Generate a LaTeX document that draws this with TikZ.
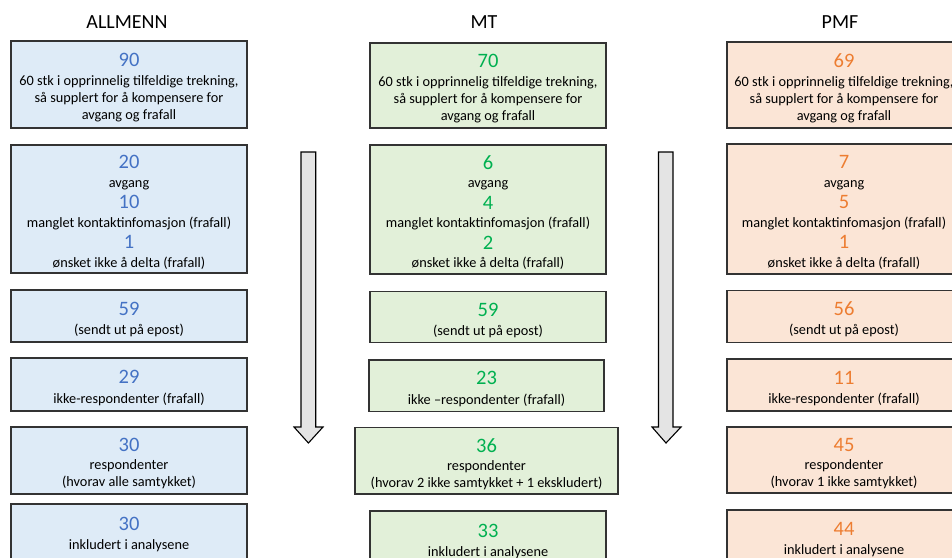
\documentclass[tikz,border=0pt]{standalone}
\usepackage{fontspec}
\setmainfont{Carlito}
\definecolor{bfill}{HTML}{DEEBF7}
\definecolor{btext}{HTML}{4472C4}
\definecolor{gfill}{HTML}{E2F0D9}
\definecolor{gtext}{HTML}{00B050}
\definecolor{ofill}{HTML}{FBE5D6}
\definecolor{otext}{HTML}{ED7D31}
\definecolor{afill}{HTML}{E4E4E4}
\definecolor{edge}{HTML}{333333}
\newcommand{\bignum}[2]{{\fontsize{20.5}{22}\selectfont\color{#1}#2}}
\newcommand{\topnum}[2]{\rule{0pt}{20pt}{\fontsize{20.5}{22}\selectfont\color{#1}#2}}
\begin{document}
\begin{tikzpicture}[x=1pt,y=-1pt,
  box/.style={draw=edge,line width=1.1pt,rectangle,inner sep=0pt,align=center,
    font=\fontsize{14.3}{17}\selectfont,text=black},
  abox/.style={box,fill=bfill},
  gbox/.style={box,fill=gfill},
  obox/.style={box,fill=ofill},
  title/.style={font=\fontsize{20}{24}\selectfont,inner sep=0pt,anchor=base},
  bigarrow/.style={draw=black,line width=1.1pt,fill=afill,line join=miter}]
\clip (0,0) rectangle (952,557);
\useasboundingbox (0,0) rectangle (952,557);
% titles
\node[title] (tA) at (127,28) {ALLMENN};
\node[title] (tM) at (484,28) {MT};
\node[title] (tP) at (840,28) {PMF};
% ALLMENN
\node[abox,minimum width=236pt,minimum height=87pt] (a1) at (129,84.5)
 {\topnum{btext}{90}\\[2pt]60 stk i opprinnelig tilfeldige trekning,\\så supplert for å kompensere for\\avgang og frafall};
\node[abox,minimum width=236pt,minimum height=128pt] (a2) at (129,209)
 {\topnum{btext}{20}\\[1.5pt]avgang\\[4.5pt]\bignum{btext}{10}\\[1.5pt]manglet kontaktinfomasjon (frafall)\\[4.5pt]\bignum{btext}{1}\\[1.5pt]ønsket ikke å delta (frafall)};
\node[abox,minimum width=236pt,minimum height=52pt] (a3) at (129,316)
 {\topnum{btext}{59}\\[2.5pt](sendt ut på epost)};
\node[abox,minimum width=236pt,minimum height=53pt] (a4) at (129,384.5)
 {\topnum{btext}{29}\\[2.5pt]ikke-respondenter (frafall)};
\node[abox,minimum width=236pt,minimum height=67pt] (a5) at (129,460.5)
 {\topnum{btext}{30}\\[1pt]respondenter\\(hvorav alle samtykket)};
\node[abox,minimum width=236pt,minimum height=60pt] (a6) at (129,534)
 {\bignum{btext}{30}\\[2pt]inkludert i analysene};
% MT
\node[gbox,minimum width=236pt,minimum height=85pt] (m1) at (488,85.5)
 {\topnum{gtext}{70}\\[2pt]60 stk i opprinnelig tilfeldige trekning,\\så supplert for å kompensere for\\avgang og frafall};
\node[gbox,minimum width=236pt,minimum height=129pt] (m2) at (488,209.5)
 {\topnum{gtext}{6}\\[1.5pt]avgang\\[4.5pt]\bignum{gtext}{4}\\[1.5pt]manglet kontaktinfomasjon (frafall)\\[4.5pt]\bignum{gtext}{2}\\[1.5pt]ønsket ikke å delta (frafall)};
\node[gbox,minimum width=236pt,minimum height=51pt] (m3) at (488,317)
 {\topnum{gtext}{59}\\[2.5pt](sendt ut på epost)};
\node[gbox,minimum width=235pt,minimum height=51.5pt] (m4) at (486.5,385.7)
 {\topnum{gtext}{23}\\[2.5pt]ikke –respondenter (frafall)};
\node[gbox,minimum width=263pt,minimum height=66.5pt] (m5) at (486.5,460.7)
 {\topnum{gtext}{36}\\[1pt]respondenter\\(hvorav 2 ikke samtykket + 1 ekskludert)};
\node[gbox,minimum width=236pt,minimum height=60pt] (m6) at (488,541)
 {\bignum{gtext}{33}\\[2pt]inkludert i analysene};
% PMF
\node[obox,minimum width=234pt,minimum height=86pt] (p1) at (844,85)
 {\topnum{otext}{69}\\[2pt]60 stk i opprinnelig tilfeldige trekning,\\så supplert for å kompensere for\\avgang og frafall};
\node[obox,minimum width=234pt,minimum height=130pt] (p2) at (844,209)
 {\topnum{otext}{7}\\[1.5pt]avgang\\[4.5pt]\bignum{otext}{5}\\[1.5pt]manglet kontaktinfomasjon (frafall)\\[4.5pt]\bignum{otext}{1}\\[1.5pt]ønsket ikke å delta (frafall)};
\node[obox,minimum width=234pt,minimum height=51.5pt] (p3) at (844,316.3)
 {\topnum{otext}{56}\\[2.5pt](sendt ut på epost)};
\node[obox,minimum width=234pt,minimum height=52pt] (p4) at (844,385)
 {\topnum{otext}{11}\\[2.5pt]ikke-respondenter (frafall)};
\node[obox,minimum width=234pt,minimum height=66pt] (p5) at (844,460)
 {\topnum{otext}{45}\\[1pt]respondenter\\(hvorav 1 ikke samtykket)};
\node[obox,minimum width=234pt,minimum height=60pt] (p6) at (844,540)
 {\bignum{otext}{44}\\[2pt]inkludert i analysene};
% block arrows
\draw[bigarrow] (301,152) -- (315.7,152) -- (315.7,427) -- (323,427) -- (308.4,443) -- (294,427) -- (301,427) -- cycle;
\draw[bigarrow] (658.5,152) -- (673,152) -- (673,427) -- (681,427) -- (666,443) -- (652,427) -- (658.5,427) -- cycle;
\end{tikzpicture}
\end{document}
